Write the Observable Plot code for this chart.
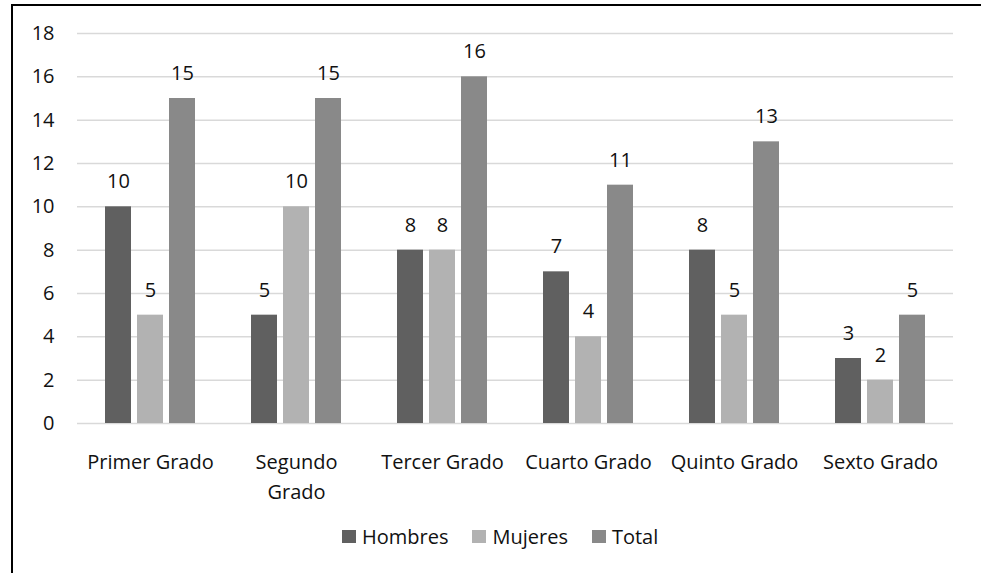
<!DOCTYPE html>
<html>
<head>
<meta charset="utf-8">
<script src="https://cdn.jsdelivr.net/npm/d3@7"></script>
<script src="https://cdn.jsdelivr.net/npm/@observablehq/plot@0.6"></script>
<style>
  body { margin: 0; background: #fff; }
  #wrap { position: relative; width: 981px; height: 573px; overflow: hidden; font-family: "Open Sans", sans-serif; background: #fff; }
  #frame { position: absolute; left: 11px; top: 4px; right: -10px; bottom: -10px; border-left: 2px solid #000; border-top: 2px solid #000; }
  #chart { position: absolute; left: 0; top: 0; }
  #legend { position: absolute; left: 342px; top: 520px; }
  .leg-swatch { margin-right: 24px; color: #111; }
  .leg-swatch > svg { margin-right: 6px; }
</style>
</head>
<body>
<div id="wrap">
  <div id="frame"></div>
  <div id="chart"></div>
  <div id="legend"></div>
</div>
<script>
const categories = ["Primer Grado", "Segundo Grado", "Tercer Grado", "Cuarto Grado", "Quinto Grado", "Sexto Grado"];
const tickLabels = ["Primer Grado", "Segundo\nGrado", "Tercer Grado", "Cuarto Grado", "Quinto Grado", "Sexto Grado"];
const series = ["Hombres", "Mujeres", "Total"];
const hombres = [10, 5, 8, 7, 8, 3];
const mujeres = [5, 10, 8, 4, 5, 2];
const total = [15, 15, 16, 11, 13, 5];
const colors = ["#606060", "#b2b2b2", "#898989"];
const yTicks = [0, 2, 4, 6, 8, 10, 12, 14, 16, 18];

const seriesValues = [hombres, mujeres, total];
const data = categories.flatMap((c, i) =>
  series.map((s, j) => ({grado: c, serie: s, value: seriesValues[j][i]}))
);

const chart = Plot.plot({
  width: 981,
  height: 500,
  marginLeft: 76,
  marginRight: 28,
  marginTop: 33,
  marginBottom: 77,
  style: {fontFamily: "Open Sans, sans-serif", fontSize: "20px", color: "#111", background: "transparent", overflow: "visible"},
  fx: {domain: categories, padding: 0, label: null},
  x: {domain: series, paddingInner: 0.2, paddingOuter: 0.88, axis: null},
  y: {domain: [0, 18], label: null},
  color: {domain: series, range: colors},
  marks: [
    Plot.ruleY(yTicks, {stroke: "#d9d9d9", strokeWidth: 1.5}),
    Plot.barY(data, {fx: "grado", x: "serie", y: "value", fill: "serie"}),
    Plot.text(data, {fx: "grado", x: "serie", y: "value", text: "value", dy: -25, fill: "#111"}),
    Plot.axisY(yTicks, {tickSize: 0, tickPadding: 23, label: null}),
    Plot.axisFx({anchor: "bottom", tickSize: 0, tickPadding: 24, label: null, lineHeight: 1.5,
      tickFormat: d => tickLabels[categories.indexOf(d)]})
  ]
});
document.getElementById("chart").appendChild(chart);

const legend = Plot.legend({
  color: {domain: series, range: colors},
  legend: "swatches",
  className: "leg",
  swatchWidth: 14,
  swatchHeight: 13,
  style: {fontFamily: "Open Sans, sans-serif", fontSize: "20px", color: "#111"}
});
document.getElementById("legend").appendChild(legend);
</script>
</body>
</html>
